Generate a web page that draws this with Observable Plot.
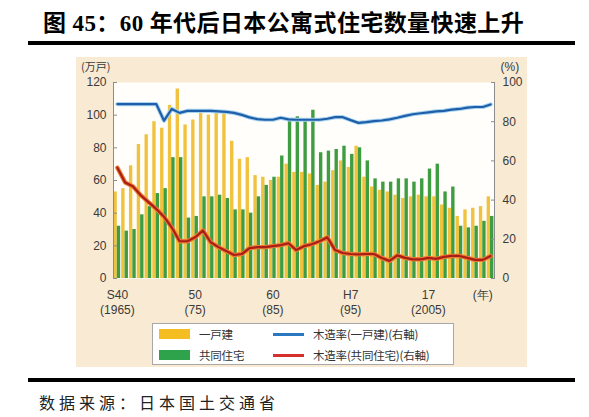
<!DOCTYPE html>
<html>
<head>
<meta charset="utf-8">
<script src="https://cdn.jsdelivr.net/npm/d3@7"></script>
<script src="https://cdn.jsdelivr.net/npm/@observablehq/plot@0.6"></script>
<style>
  body { margin: 0; background: #fff; width: 589px; height: 417px; position: relative; overflow: hidden; }
  #title { position: absolute; left: 43px; top: 10px; font: bold 23px/28px "Liberation Serif", "Noto Sans CJK SC"; letter-spacing: 0.4px; color: #000; white-space: nowrap; }
  .rule { position: absolute; left: 28px; width: 547px; background: #000; }
  #panel { position: absolute; left: 76px; top: 57px; width: 451px; height: 310px; background: #f8ead3; }
  #chart { position: absolute; left: 0; top: 0; }
  #legend { position: absolute; left: 76px; top: 266px; width: 300px; height: 40px; background: #fff; border: 1px solid #a8a8a8; font: 11.5px/14px "Noto Sans CJK JP", sans-serif; letter-spacing: -0.2px; color: #333; }
  #legend div { position: absolute; white-space: nowrap; }
  #caption { position: absolute; left: 39px; top: 392px; font: 16px/20px "Noto Sans CJK SC", sans-serif; letter-spacing: 4px; color: #222; }
</style>
</head>
<body>
<div id="title">图 45：60 年代后日本公寓式住宅数量快速上升</div>
<div class="rule" style="top:41px;height:4px"></div>
<div id="panel">
  <div id="chart"></div>
  <div id="legend"></div>
</div>
<div class="rule" style="top:378px;height:4px"></div>
<div id="caption">数据来源：日本国土交通省</div>
<script>
// 年（S40=1965 … H25=2013）
const years = [1965, 1966, 1967, 1968, 1969, 1970, 1971, 1972, 1973, 1974,
  1975, 1976, 1977, 1978, 1979, 1980, 1981, 1982, 1983, 1984,
  1985, 1986, 1987, 1988, 1989, 1990, 1991, 1992, 1993, 1994,
  1995, 1996, 1997, 1998, 1999, 2000, 2001, 2002, 2003, 2004,
  2005, 2006, 2007, 2008, 2009, 2010, 2011, 2012, 2013]

// 一戸建（万戸, 左軸）
const detached = [53, 55, 69, 82, 88, 96, 92, 106, 116, 94,
  97, 101, 100, 102, 101, 84, 73, 74, 63, 62,
  60, 62, 70, 65, 65, 64, 57, 59, 66, 72,
  68, 81, 62, 56, 54, 53, 51, 49, 50, 51,
  50, 50, 45, 43, 38, 42, 43, 44, 50]

// 共同住宅（万戸, 左軸）
const apartment = [32, 29, 30, 39, 44, 52, 55, 74, 74, 37,
  38, 50, 50, 51, 49, 42, 42, 40, 50, 57,
  62, 75, 97, 99, 97, 103, 77, 78, 79, 81,
  76, 80, 72, 61, 59, 59, 61, 61, 59, 61,
  67, 70, 53, 56, 32, 31, 32, 35, 38]

// 木造率(一戸建)（%, 右軸）
const woodDetached = [89, 89, 89, 89, 89, 89, 80.5, 86.5, 84.5, 85.5,
  85.5, 85.5, 85.5, 85.3, 85, 84.5, 83.5, 82.2, 81.3, 81,
  81, 82, 81.2, 81, 81, 81, 81, 81.5, 82.3, 82.3,
  80.8, 79.4, 79.8, 80.3, 80.6, 81.2, 82, 83, 83.8, 84.3,
  84.8, 85.3, 85.5, 86.2, 86.5, 87.2, 87.5, 87.5, 88.8]

// 木造率(共同住宅)（%, 右軸）
const woodApartment = [56.5, 49, 47, 42.5, 39, 35.5, 31.5, 26, 19, 19,
  21, 24.5, 18.5, 16, 14, 12, 12.5, 15.5, 16, 16,
  16.5, 17, 18, 14.5, 16.5, 17.5, 19, 21, 14.5, 13,
  12.5, 12.3, 12.5, 12.5, 10.5, 9, 11.8, 10.5, 9.8, 9.8,
  10.5, 10, 11, 11.5, 11.5, 10.5, 9.5, 9.5, 11.5]

const leftTicks = [0, 20, 40, 60, 80, 100, 120]
const rightTicks = [0, 20, 40, 60, 80, 100]
const xTickYears = [1965, 1975, 1985, 1995, 2005, 2012]
const xTickLabels = ["S40\n(1965)", "50\n(75)", "60\n(85)", "H7\n(95)", "17\n(2005)", "(年)"]

// 右軸 0–100% を左軸 0–120 に重ねる
const k = 1.2

const rows = years.map((year, i) => ({
  year,
  detached: detached[i],
  apartment: apartment[i],
  woodDetached: woodDetached[i] * k,
  woodApartment: woodApartment[i] * k
}))

const chart = Plot.plot({
  width: 451,
  height: 260,
  marginLeft: 37,
  marginRight: 33,
  marginTop: 25,
  marginBottom: 39,
  style: {background: "transparent", fontFamily: "Liberation Sans, Arial, sans-serif", fontSize: "12px", color: "#3a3a3a", overflow: "visible"},
  x: {type: "band", domain: years, padding: 0},
  y: {domain: [0, 120]},
  marks: [
    Plot.frame({fill: "#fffefb", stroke: null}),
    Plot.barY(rows, {x: "year", y: "detached", fill: "#f1c23e", insetLeft: 0.4, insetRight: 4}),
    Plot.barY(rows, {x: "year", y: "apartment", fill: "#3e9d41", insetLeft: 3.8, insetRight: 0.6}),
    Plot.line(rows, {x: "year", y: "woodDetached", stroke: "#a8d4f0", strokeWidth: 4.2}),
    Plot.line(rows, {x: "year", y: "woodDetached", stroke: "#1f5ea8", strokeWidth: 2.2}),
    Plot.line(rows, {x: "year", y: "woodApartment", stroke: "#ee7a32", strokeWidth: 4.4}),
    Plot.line(rows, {x: "year", y: "woodApartment", stroke: "#a81f17", strokeWidth: 2.2}),
    Plot.frame({anchor: "left", stroke: "#8c8c8c"}),
    Plot.frame({anchor: "right", stroke: "#8c8c8c"}),
    Plot.axisY(leftTicks, {anchor: "left", tickSize: -4, tickPadding: 11, stroke: "#8c8c8c", label: null}),
    Plot.axisY(rightTicks.map(v => v * k), {anchor: "right", tickSize: -4, tickPadding: 12, stroke: "#8c8c8c",
      tickFormat: d => Math.round(d / k), label: null}),
    Plot.axisX(xTickYears, {tickSize: 0, tickPadding: 10, lineHeight: 1.25,
      tickFormat: d => xTickLabels[xTickYears.indexOf(d)], label: null}),
    Plot.text(["(万戸)"], {text: d => d, frameAnchor: "top-left", lineAnchor: "middle", dx: -3, dy: -15, textAnchor: "end",
      fontFamily: "Noto Sans CJK JP", fontSize: 11, fill: "#3a3a3a"}),
    Plot.text(["(%)"], {text: d => d, frameAnchor: "top-right", lineAnchor: "middle", dx: 6, dy: -15, textAnchor: "start",
      fontSize: 12, fill: "#3a3a3a"})
  ]
})
d3.select('#chart').append(() => chart)

// 凡例
const legendItems = [
  {label: "一戸建", color: "#f4bd22", kind: "box", x: 6, y: 10},
  {label: "共同住宅", color: "#2fa24c", kind: "box", x: 6, y: 31},
  {label: "木造率(一戸建)(右軸)", color: "#2b78c2", kind: "line", x: 120, y: 10},
  {label: "木造率(共同住宅)(右軸)", color: "#d6302c", kind: "line", x: 120, y: 31}
]
const legend = d3.select('#legend')
legendItems.forEach(it => {
  legend.append('div')
    .style('left', it.x + 'px')
    .style('top', (it.kind === "box" ? it.y - 5 : it.y - 1) + 'px')
    .style('width', '31px')
    .style('height', it.kind === "box" ? '10px' : '2.5px')
    .style('background', it.color)
  legend.append('div')
    .style('left', (it.x + 40) + 'px')
    .style('top', (it.y - 7) + 'px')
    .text(it.label)
})
</script>
</body>
</html>
